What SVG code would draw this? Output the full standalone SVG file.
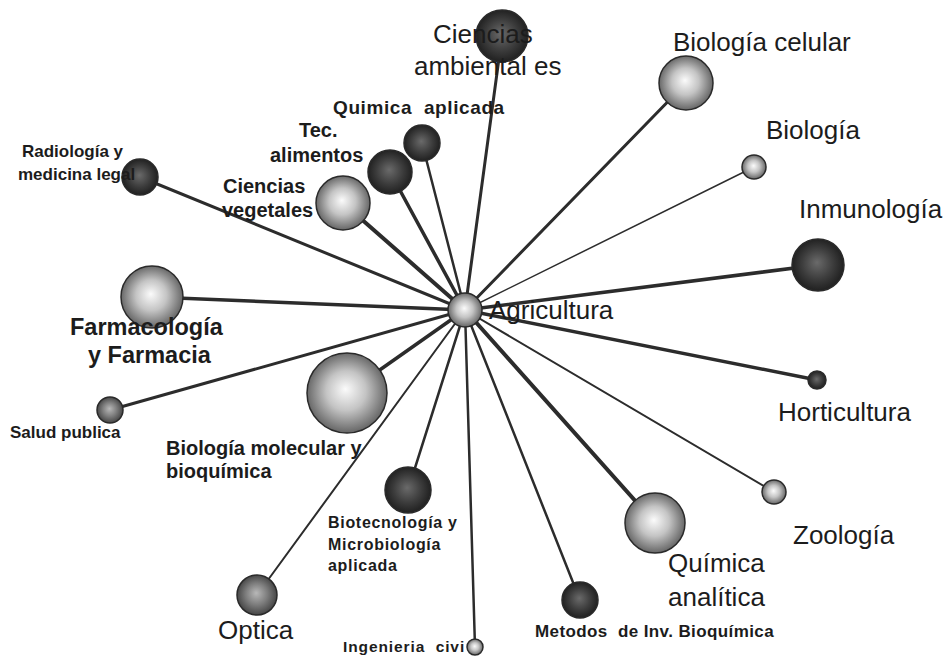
<svg xmlns="http://www.w3.org/2000/svg" width="944" height="657" viewBox="0 0 944 657">
<defs>
<radialGradient id="gLight" cx="50%" cy="50%" r="55%" fx="48%" fy="45%">
<stop offset="0" stop-color="#fbfbfb"/><stop offset="0.45" stop-color="#c4c4c4"/><stop offset="1" stop-color="#555"/>
</radialGradient>
<radialGradient id="gMid" cx="50%" cy="50%" r="55%" fx="48%" fy="45%">
<stop offset="0" stop-color="#b8b8b8"/><stop offset="0.5" stop-color="#7c7c7c"/><stop offset="1" stop-color="#3a3a3a"/>
</radialGradient>
<radialGradient id="gDark" cx="50%" cy="50%" r="55%" fx="48%" fy="45%">
<stop offset="0" stop-color="#6a6a6a"/><stop offset="0.55" stop-color="#3c3c3c"/><stop offset="1" stop-color="#1a1a1a"/>
</radialGradient>
</defs>
<style>
.e{stroke:#2c2c2c;stroke-linecap:round;fill:none}
.n{stroke:#2a2a2a;stroke-width:1.5}
.l{fill:url(#gLight)} .m{fill:url(#gMid)} .d{fill:url(#gDark)}
text{fill:#1c1c1c;font-family:"Liberation Sans",Arial,sans-serif}
.t{font-size:26px}
.b{font-weight:bold}
</style>
<rect width="944" height="657" fill="#fff"/>
<g id="connectors">
<line class="e" x1="465" y1="310" x2="502" y2="36" stroke-width="3"/>
<line class="e" x1="465" y1="310" x2="422" y2="143" stroke-width="2.5"/>
<line class="e" x1="465" y1="310" x2="390" y2="172" stroke-width="3.5"/>
<line class="e" x1="465" y1="310" x2="343" y2="203" stroke-width="4"/>
<line class="e" x1="465" y1="310" x2="140" y2="177" stroke-width="3"/>
<line class="e" x1="465" y1="310" x2="152" y2="297" stroke-width="3.5"/>
<line class="e" x1="465" y1="310" x2="110" y2="410" stroke-width="3"/>
<line class="e" x1="465" y1="310" x2="347" y2="393" stroke-width="3.5"/>
<line class="e" x1="465" y1="310" x2="408" y2="490" stroke-width="2.5"/>
<line class="e" x1="465" y1="310" x2="257" y2="595" stroke-width="2"/>
<line class="e" x1="465" y1="310" x2="475" y2="647" stroke-width="2.5"/>
<line class="e" x1="465" y1="310" x2="580" y2="600" stroke-width="2.5"/>
<line class="e" x1="465" y1="310" x2="655" y2="523" stroke-width="4"/>
<line class="e" x1="465" y1="310" x2="774" y2="492" stroke-width="2"/>
<line class="e" x1="465" y1="310" x2="817" y2="380" stroke-width="3.5"/>
<line class="e" x1="465" y1="310" x2="818" y2="265" stroke-width="3.5"/>
<line class="e" x1="465" y1="310" x2="754" y2="167" stroke-width="1.5"/>
<line class="e" x1="465" y1="310" x2="686" y2="83" stroke-width="3"/>
</g>
<g id="n-ambientales"><circle class="n d" cx="502" cy="36" r="26"/><text class="t" x="433" y="43" font-size="28">Ciencias</text><text class="t" x="414" y="75" font-size="28">ambiental es</text></g>
<g id="n-quimica-aplicada"><circle class="n d" cx="422" cy="143" r="18"/><text class="b" x="333" y="114" font-size="19" letter-spacing="0.6" xml:space="preserve">Quimica  aplicada</text></g>
<g id="n-tec-alimentos"><circle class="n d" cx="390" cy="172" r="22"/><text class="b" x="299" y="137" font-size="20">Tec.</text><text class="b" x="270" y="162" font-size="20">alimentos</text></g>
<g id="n-vegetales"><circle class="n l" cx="343" cy="203" r="27"/><text class="b" x="223" y="193" font-size="20">Ciencias</text><text class="b" x="222" y="217" font-size="20">vegetales</text></g>
<g id="n-radiologia"><circle class="n d" cx="140" cy="177" r="18"/><text class="b" x="22" y="157" font-size="17">Radiología y</text><text class="b" x="18" y="180" font-size="17">medicina legal</text></g>
<g id="n-farmacologia"><circle class="n l" cx="152" cy="297" r="31"/><text class="b" x="70" y="335" font-size="23.5">Farmacología</text><text class="b" x="88" y="363" font-size="23.5">y Farmacia</text></g>
<g id="n-salud"><circle class="n m" cx="110" cy="410" r="13"/><text class="b" x="10" y="438" font-size="17">Salud publica</text></g>
<g id="n-biol-molecular"><circle class="n l" cx="347" cy="393" r="40"/><text class="b" x="166" y="455" font-size="20">Biología molecular y</text><text class="b" x="166" y="478" font-size="20">bioquímica</text></g>
<g id="n-biotecnologia"><circle class="n d" cx="408" cy="490" r="23"/><text class="b" x="328" y="528" font-size="16" letter-spacing="0.7">Biotecnología y</text><text class="b" x="328" y="550" font-size="16" letter-spacing="0.7">Microbiología</text><text class="b" x="328" y="571" font-size="16" letter-spacing="0.7">aplicada</text></g>
<g id="n-optica"><circle class="n m" cx="257" cy="595" r="20"/><text class="t" x="218" y="639">Optica</text></g>
<g id="n-ingenieria"><circle class="n l" cx="475" cy="647" r="8"/><text class="b" x="343" y="652" font-size="15.5" letter-spacing="0.9" xml:space="preserve">Ingenieria  civi</text></g>
<g id="n-metodos"><circle class="n d" cx="580" cy="600" r="18"/><text class="b" x="535" y="637" font-size="17" letter-spacing="0.4" xml:space="preserve">Metodos  de Inv. Bioquímica</text></g>
<g id="n-quimica-analitica"><circle class="n l" cx="655" cy="523" r="30"/><text class="t" x="668" y="572" font-size="27">Química</text><text class="t" x="668" y="606" font-size="27">analítica</text></g>
<g id="n-zoologia"><circle class="n l" cx="774" cy="492" r="12"/><text class="t" x="793" y="544">Zoología</text></g>
<g id="n-horticultura"><circle class="n d" cx="817" cy="380" r="9"/><text class="t" x="778" y="421">Horticultura</text></g>
<g id="n-inmunologia"><circle class="n d" cx="818" cy="265" r="26"/><text class="t" x="799" y="218" font-size="25">Inmunología</text></g>
<g id="n-biologia"><circle class="n l" cx="754" cy="167" r="12"/><text class="t" x="766" y="139" font-size="25">Biología</text></g>
<g id="n-biol-celular"><circle class="n l" cx="686" cy="83" r="27"/><text class="t" x="673" y="51">Biología celular</text></g>
<g id="n-agricultura"><circle class="n m" cx="465" cy="310" r="17" style="fill:url(#gLight)"/><text class="t" x="489" y="319" font-size="28">Agricultura</text></g>
</svg>
